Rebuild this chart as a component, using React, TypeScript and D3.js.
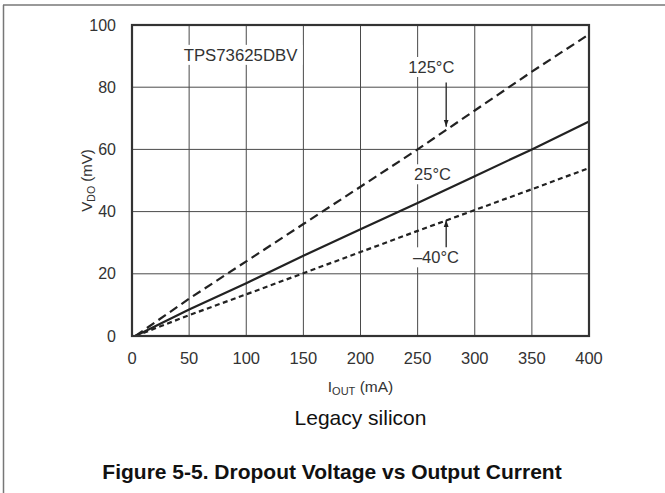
import React from "react";
import * as d3 from "d3";

const currents = [3, 50, 100, 150, 200, 250, 300, 350, 400];
const vdo125 = [0, 12, 24, 36, 48, 60, 72.5, 85, 97];
const vdo25 = [0, 8.5, 17, 25.8, 34.3, 42.8, 51.4, 60, 69];
const vdoM40 = [0, 6.7, 13.4, 20.2, 27, 33.8, 40.5, 47.2, 54];
const xTicks = [0, 50, 100, 150, 200, 250, 300, 350, 400];
const yTicks = [0, 20, 40, 60, 80, 100];

const W = 665, H = 493;
const L = 132, R = 589, T = 25, B = 336;

export default function App() {
  const x = d3.scaleLinear().domain([0, 400]).range([L, R]);
  const y = d3.scaleLinear().domain([0, 100]).range([B, T]);
  const line = d3.line<number>().x((_, i) => x(currents[i])).y((d) => y(d));
  const font = "'Liberation Sans', Arial, sans-serif";
  const grid = "#4a4a4a";
  const ink = "#222";
  const series = [
    { v: vdo125, dash: "9 5" },
    { v: vdo25, dash: "" },
    { v: vdoM40, dash: "5 3.5" },
  ];
  const labelBg = (cx: number, cy: number, w: number, h: number) => (
    <rect x={cx - w / 2} y={cy - h / 2} width={w} height={h} fill="#fff" />
  );
  return (
    <svg width={W} height={H} style={{ position: "absolute", left: 0, top: 0, background: "#fff" }} fontFamily={font}>
      <defs>
        <marker id="ah" viewBox="0 0 10 10" refX="10" refY="5" markerWidth="7" markerHeight="7" orient="auto" markerUnits="userSpaceOnUse">
          <path d="M0,1.5 L10,5 L0,8.5 Z" fill={ink} />
        </marker>
      </defs>
      {/* outer frame */}
      <line x1={3} y1={5} x2={W} y2={5} stroke="#777" strokeWidth={1.5} />
      <line x1={3.5} y1={5} x2={3.5} y2={H} stroke="#777" strokeWidth={1.5} />
      {/* grid */}
      {xTicks.slice(1, -1).map((t) => (
        <line key={"gx" + t} x1={x(t)} x2={x(t)} y1={T} y2={B} stroke={grid} strokeWidth={1} />
      ))}
      {yTicks.slice(1, -1).map((t) => (
        <line key={"gy" + t} x1={L} x2={R} y1={y(t)} y2={y(t)} stroke={grid} strokeWidth={1} />
      ))}
      {/* label backgrounds */}
      {labelBg(x(95), y(90.4), 124, 20)}
      {labelBg(x(262), y(86.5), 56, 20)}
      {labelBg(x(263), y(52), 48, 20)}
      {labelBg(x(266), y(25.3), 54, 20)}
      {/* curves */}
      {series.map((s, i) => (
        <path key={i} d={line(s.v) || ""} fill="none" stroke={ink} strokeWidth={2.2} strokeDasharray={s.dash} />
      ))}
      {/* frame */}
      <rect x={L} y={T} width={R - L} height={B - T} fill="none" stroke="#333" strokeWidth={2.2} />
      {/* texts */}
      <text x={x(95)} y={y(90.4)} dy="0.35em" textAnchor="middle" fontSize={16.8} fill="#333">TPS73625DBV</text>
      <text x={x(262)} y={y(86.5)} dy="0.35em" textAnchor="middle" fontSize={16.5} fill="#333">125°C</text>
      <text x={x(263)} y={y(52)} dy="0.35em" textAnchor="middle" fontSize={16.5} fill="#333">25°C</text>
      <text x={x(266)} y={y(25.3)} dy="0.35em" textAnchor="middle" fontSize={16.5} fill="#333">–40°C</text>
      {/* arrows */}
      <line x1={x(275)} x2={x(275)} y1={y(81.5)} y2={y(67.3)} stroke={ink} strokeWidth={1.3} markerEnd="url(#ah)" />
      <line x1={x(275)} x2={x(275)} y1={y(28.5)} y2={y(37.3)} stroke={ink} strokeWidth={1.3} markerEnd="url(#ah)" />
      {/* tick labels */}
      {yTicks.map((t) => (
        <text key={"yl" + t} x={L - 16} y={y(t)} dy="0.35em" textAnchor="end" fontSize={16} fill="#333">{t}</text>
      ))}
      {xTicks.map((t) => (
        <text key={"xl" + t} x={x(t)} y={B + 22} dy="0.35em" textAnchor="middle" fontSize={16.5} fill="#333">{t}</text>
      ))}
      {/* axis titles */}
      <text transform={`translate(92,${(T + B) / 2}) rotate(-90)`} textAnchor="middle" fontSize={15} fill="#333">
        V<tspan fontSize={10.5} dy={3}>DO</tspan><tspan dy={-3}> (mV)</tspan>
      </text>
      <text x={(L + R) / 2} y={392} textAnchor="middle" fontSize={15.5} fill="#333">
        I<tspan fontSize={11} dy={3}>OUT</tspan><tspan dy={-3}> (mA)</tspan>
      </text>
      <text x={(L + R) / 2} y={425} textAnchor="middle" fontSize={21} fill="#111">Legacy silicon</text>
      <text x={332} y={479} textAnchor="middle" fontSize={21} fontWeight="bold" fill="#111">Figure 5-5. Dropout Voltage vs Output Current</text>
    </svg>
  );
}
